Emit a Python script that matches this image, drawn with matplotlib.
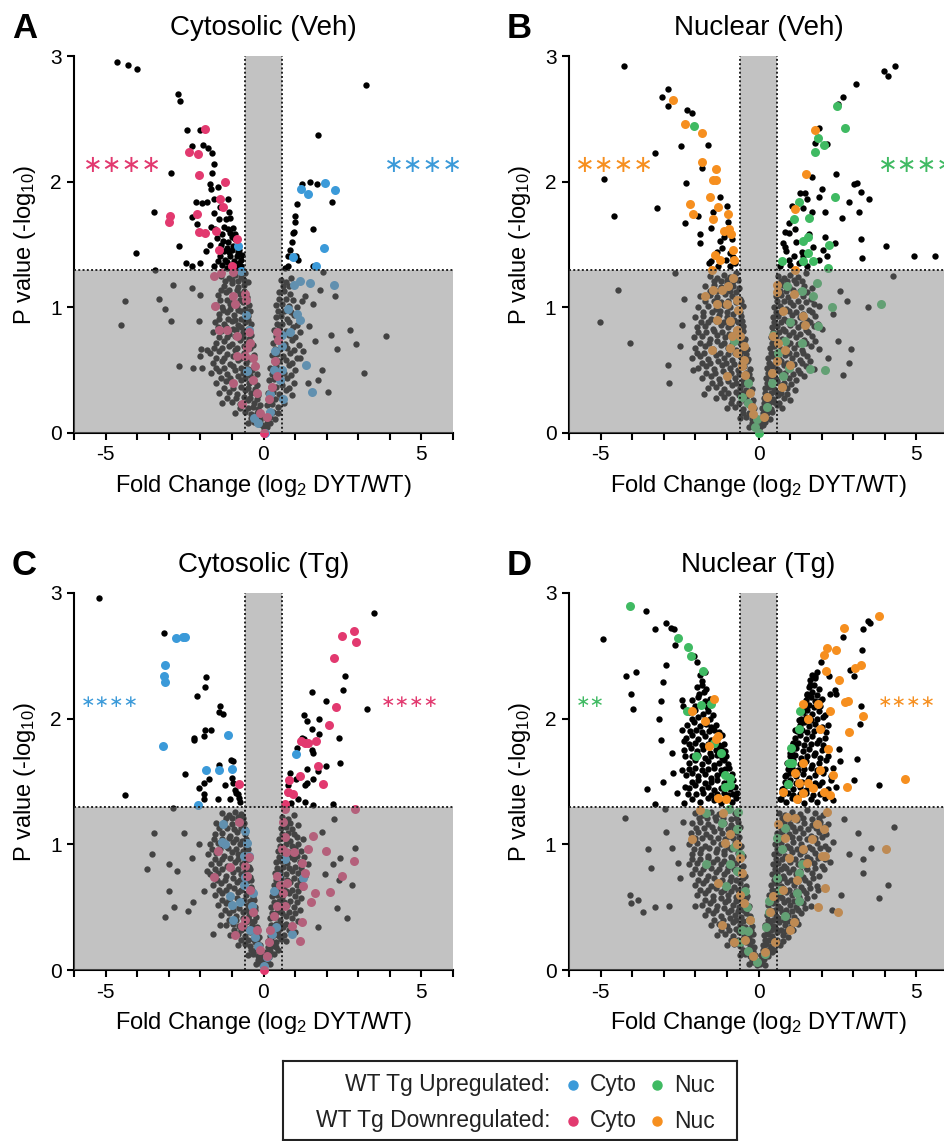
import matplotlib.pyplot as plt
from matplotlib.patches import Polygon

plt.rcParams['font.family'] = ['Liberation Sans', 'DejaVu Sans']
plt.rcParams['mathtext.fontset'] = 'custom'
plt.rcParams['mathtext.rm'] = 'Liberation Sans'
plt.rcParams['mathtext.it'] = 'Liberation Sans:italic'
plt.rcParams['axes.unicode_minus'] = False

BLUE = '#3b9ad9'
PINK = '#e2396f'
GREEN = '#3fba62'
ORANGE = '#f68f1f'

# ---------------- A: Cytosolic (Veh) ----------------
a_other = [
    (-4.63, 2.95), (-4.29, 2.93), (-4.02, 2.90), (-2.71, 2.70), (-2.63, 2.64), (-2.42, 2.41), (-2.00, 2.41),
    (-2.26, 2.28), (-1.93, 2.29), (-1.76, 2.27), (-1.62, 2.23), (-2.92, 2.07), (-1.58, 2.14), (-1.62, 2.07),
    (-1.69, 1.98), (-1.66, 1.94), (-1.43, 1.96), (-1.58, 1.86), (-3.47, 1.76), (-4.03, 1.43), (-3.45, 1.30),
    (-2.68, 1.49), (-2.44, 1.35), (-2.26, 1.33), (-2.13, 1.84), (-1.95, 1.83), (-1.79, 1.84), (-2.25, 1.72),
    (-2.10, 1.66), (-1.65, 1.64), (-1.12, 1.86), (-1.37, 1.80), (-1.58, 1.75), (-1.09, 1.76), (-1.05, 1.71),
    (-1.42, 1.70), (-1.24, 1.64), (-0.95, 1.63), (-1.05, 1.59), (-1.47, 1.55), (-1.34, 1.50), (-1.16, 1.47),
    (-0.95, 1.49), (-0.76, 1.46), (-0.84, 1.41), (-1.05, 1.41), (-1.21, 1.38), (-1.32, 1.34), (-1.00, 1.34),
    (-0.79, 1.35), (-1.82, 1.45), (-1.11, 1.52), (-0.89, 1.54), (-1.58, 1.33), (-2.00, 1.35), (-1.37, 1.41),
    (-0.90, 1.32), (-1.15, 1.31), (-0.70, 1.38), (-1.25, 1.45), (-0.85, 1.48), (-1.00, 1.56), (-1.30, 1.58),
    (-1.55, 1.62), (-1.20, 1.70), (-0.78, 1.32), (-1.45, 1.37), (-1.10, 1.44), (-0.92, 1.37), (-1.68, 1.50),
    (-0.70, 1.33), (-0.82, 1.44), (-1.00, 1.46), (-1.15, 1.36), (-0.68, 1.42), (-1.28, 1.53), (-0.90, 1.58),
    (-1.12, 1.62),
    (3.24, 2.77), (1.74, 2.37), (1.21, 1.98), (1.47, 2.00), (1.68, 1.98), (2.18, 1.84), (1.05, 1.82),
    (1.00, 1.73), (1.00, 1.68), (0.95, 1.60), (0.93, 1.59), (1.56, 1.62), (0.89, 1.52), (0.84, 1.46),
    (0.76, 1.41), (1.03, 1.41), (1.10, 1.38), (0.79, 1.33), (1.58, 1.33), (0.68, 1.31),
    (-4.38, 1.05), (-4.51, 0.86), (-3.32, 1.07), (-3.12, 0.99), (-2.92, 0.89), (-2.86, 1.18), (-2.66, 0.53),
    (-2.23, 0.52), (-1.94, 0.52), (-2.05, 0.89), (-2.26, 1.15), (-2.00, 1.10), (-1.98, 0.67), (-1.79, 0.66),
    (-2.00, 0.61), (2.26, 1.09), (2.14, 0.78), (2.74, 0.82), (2.93, 0.71), (3.87, 0.77), (2.34, 0.67),
    (3.19, 0.48), (2.05, 0.33), (1.84, 0.50), (1.74, 0.42), (1.63, 0.73), (1.26, 0.65), (1.16, 0.60),
    (1.79, 1.14), (1.87, 1.28), (1.32, 1.09), (1.58, 1.03), (1.21, 1.05), (1.45, 0.85), (1.40, 0.40),
    (-1.35, 1.25), (-1.10, 1.23), (-0.90, 1.26), (-0.70, 1.24), (-0.58, 1.27),
    (-1.25, 1.17), (-1.00, 1.19), (-0.80, 1.16), (-0.62, 1.18), (-0.50, 1.20),
    (-1.45, 1.10), (-1.20, 1.12), (-0.95, 1.09), (-0.75, 1.11), (-0.52, 1.08),
    (-1.50, 1.02), (-1.30, 1.00), (-1.05, 1.03), (-0.85, 1.01), (-0.65, 1.04), (-0.45, 1.02),
    (-1.40, 0.95), (-1.15, 0.96), (-0.92, 0.94), (-0.70, 0.97), (-0.48, 0.93),
    (-1.55, 0.88), (-1.25, 0.87), (-1.00, 0.89), (-0.80, 0.86), (-0.58, 0.88), (-0.40, 0.87),
    (-1.60, 0.80), (-1.35, 0.81), (-1.10, 0.79), (-0.88, 0.82), (-0.65, 0.80), (-0.38, 0.78),
    (-1.50, 0.72), (-1.25, 0.73), (-1.00, 0.71), (-0.75, 0.74), (-0.52, 0.72), (-0.33, 0.70),
    (-1.70, 0.64), (-1.40, 0.65), (-1.15, 0.63), (-0.90, 0.66), (-0.62, 0.64), (-0.30, 0.62),
    (-1.60, 0.56), (-1.30, 0.57), (-1.05, 0.55), (-0.80, 0.58), (-0.55, 0.56), (-0.27, 0.54),
    (-1.65, 0.48), (-1.40, 0.49), (-1.15, 0.47), (-0.90, 0.50), (-0.65, 0.48), (-0.42, 0.46), (-0.22, 0.47),
    (-1.50, 0.40), (-1.20, 0.41), (-0.95, 0.39), (-0.70, 0.42), (-0.45, 0.40), (-0.20, 0.38),
    (-1.40, 0.32), (-1.10, 0.33), (-0.85, 0.31), (-0.60, 0.34), (-0.38, 0.32), (-0.16, 0.30),
    (-1.30, 0.24), (-1.00, 0.25), (-0.75, 0.23), (-0.50, 0.26), (-0.30, 0.24), (-0.12, 0.22),
    (-0.90, 0.16), (-0.60, 0.17), (-0.40, 0.15), (-0.22, 0.16), (-0.09, 0.14),
    (-0.50, 0.08), (-0.30, 0.09), (-0.15, 0.07), (-0.05, 0.06),
    (0.55, 1.22), (0.72, 1.20), (0.88, 1.23), (0.48, 1.12), (0.65, 1.13), (0.85, 1.11),
    (0.40, 1.02), (0.60, 1.03), (0.80, 1.01), (1.05, 1.00), (0.38, 0.92), (0.55, 0.93), (0.75, 0.91), (0.98, 0.94),
    (0.33, 0.82), (0.50, 0.83), (0.70, 0.81), (0.92, 0.84), (1.15, 0.80),
    (0.30, 0.72), (0.48, 0.73), (0.68, 0.71), (0.90, 0.74), (1.12, 0.70),
    (0.26, 0.62), (0.42, 0.63), (0.62, 0.61), (0.85, 0.64), (1.05, 0.60),
    (0.22, 0.52), (0.38, 0.53), (0.58, 0.51), (0.80, 0.54), (1.00, 0.50),
    (0.18, 0.42), (0.34, 0.43), (0.55, 0.41), (0.75, 0.44), (0.98, 0.40),
    (0.15, 0.32), (0.30, 0.33), (0.50, 0.31), (0.70, 0.34), (0.90, 0.30),
    (0.12, 0.22), (0.26, 0.23), (0.45, 0.21), (0.65, 0.24), (0.08, 0.12), (0.20, 0.13), (0.35, 0.11),
    (0.03, 0.04), (0.12, 0.05),
]
a_core = [
    (-1.22, 1.21), (-1.00, 1.22), (-0.80, 1.21), (-0.63, 1.22), (-1.35, 1.14), (-1.08, 1.14), (-0.85, 1.14),
    (-0.63, 1.13), (-1.38, 1.06), (-1.15, 1.06), (-0.95, 1.05), (-0.75, 1.06), (-0.55, 1.05), (-1.28, 0.98),
    (-1.05, 0.99), (-0.82, 0.98), (-0.60, 0.99), (-0.42, 0.97), (-1.40, 0.91), (-1.12, 0.91), (-0.90, 0.90),
    (-0.70, 0.91), (-0.50, 0.90), (-1.45, 0.84), (-1.20, 0.84), (-0.95, 0.83), (-0.72, 0.84), (-0.50, 0.83),
    (-1.42, 0.76), (-1.15, 0.76), (-0.90, 0.77), (-0.66, 0.76), (-0.45, 0.75), (-1.58, 0.68), (-1.30, 0.68),
    (-1.08, 0.69), (-0.85, 0.68), (-0.62, 0.69), (-0.42, 0.68), (-1.50, 0.60), (-1.25, 0.60), (-0.98, 0.61),
    (-0.72, 0.60), (-0.45, 0.59), (-1.50, 0.52), (-1.25, 0.52), (-0.98, 0.53), (-0.72, 0.52), (-0.50, 0.51),
    (-0.35, 0.50), (-1.35, 0.44), (-1.05, 0.44), (-0.82, 0.45), (-0.58, 0.44), (-0.32, 0.43), (-1.25, 0.36),
    (-0.98, 0.36), (-0.72, 0.37), (-0.50, 0.36), (-0.28, 0.35), (-1.15, 0.28), (-0.88, 0.28), (-0.62, 0.29),
    (-0.42, 0.28), (-0.22, 0.27), (-0.75, 0.20), (-0.50, 0.20), (-0.32, 0.21), (-0.18, 0.19), (-0.40, 0.12),
    (-0.22, 0.12), (-0.10, 0.10),
    (0.62, 1.17), (0.80, 1.17), (0.50, 1.07), (0.70, 1.07), (0.92, 1.06), (0.46, 0.97), (0.65, 0.97),
    (0.86, 0.96), (0.42, 0.87), (0.60, 0.87), (0.82, 0.88), (1.05, 0.86), (0.40, 0.77), (0.58, 0.77),
    (0.80, 0.78), (1.00, 0.76), (0.36, 0.67), (0.52, 0.67), (0.75, 0.68), (0.95, 0.66), (0.32, 0.57),
    (0.50, 0.57), (0.70, 0.58), (0.90, 0.56), (0.28, 0.47), (0.45, 0.47), (0.65, 0.48), (0.86, 0.46),
    (0.24, 0.37), (0.40, 0.37), (0.60, 0.38), (0.80, 0.36), (0.20, 0.27), (0.36, 0.27), (0.55, 0.28),
    (0.16, 0.17), (0.30, 0.17), (0.45, 0.16), (0.10, 0.08), (0.22, 0.08),
]
a_up = [
    (-0.81, 1.49), (1.19, 1.94), (1.42, 1.90), (1.95, 1.99), (2.26, 1.93), (0.93, 1.40), (1.93, 1.47), (1.66, 1.33),
    (-0.71, 1.29), (0.95, 1.18), (1.14, 1.21), (1.47, 1.19), (2.23, 1.18), (0.76, 0.99), (1.05, 0.95), (1.16, 0.90),
    (0.58, 0.78), (0.84, 0.80), (0.37, 0.65), (0.58, 0.69), (1.34, 0.54), (0.32, 0.50), (0.58, 0.50), (0.53, 0.42),
    (0.63, 0.27), (0.19, 0.31), (0.21, 0.17), (0.05, 0.00), (-0.29, 0.12), (-0.16, 0.08), (-0.47, 0.82),
    (-0.51, 0.49), (-0.56, 0.94), (1.53, 0.33),
]
a_down = [
    (-1.84, 2.42), (-2.35, 2.24), (-2.08, 2.22), (-2.03, 2.05), (-1.23, 2.00), (-1.39, 1.86), (-1.29, 1.80),
    (-2.95, 1.73), (-2.99, 1.68), (-2.10, 1.74), (-2.03, 1.60), (-1.86, 1.59), (-1.49, 1.61), (-0.84, 1.54),
    (-1.42, 1.46), (-1.00, 1.33),
    (-1.58, 1.25), (-1.35, 1.27), (-0.95, 1.28), (-1.55, 1.01), (-0.95, 1.09), (-0.58, 1.11), (-0.55, 1.06),
    (-0.89, 1.03), (-1.42, 0.82), (-1.16, 0.82), (-0.84, 0.77), (-0.47, 0.80), (-0.44, 0.72), (-0.53, 0.68),
    (-0.84, 0.61), (-0.58, 0.61), (-0.32, 0.60), (-0.95, 0.40), (-0.68, 0.23), (-0.26, 0.53), (-0.32, 0.42),
    (-0.21, 0.32), (-0.11, 0.16), (0.00, 0.00), (0.42, 0.80), (0.47, 0.74), (0.37, 0.57), (0.42, 0.45),
    (0.26, 0.37), (0.16, 0.27), (0.11, 0.13),
]

# ---------------- B: Nuclear (Veh) ----------------
b_other = [
    (-4.27, 2.92), (-2.87, 2.74), (-3.06, 2.67), (-2.87, 2.60), (-2.27, 2.57), (-2.11, 2.55), (-1.60, 2.29),
    (-2.46, 2.28), (-3.27, 2.23), (-1.79, 2.15), (-1.78, 2.11), (-4.88, 2.02), (-2.30, 1.99), (-3.20, 1.79),
    (-4.56, 1.73), (-2.34, 1.67), (-1.90, 1.73), (-1.45, 1.76), (-1.23, 1.88), (-1.00, 1.81), (-0.95, 1.68),
    (-1.50, 1.63), (-1.85, 1.58), (-1.85, 1.51), (-1.23, 1.53), (-1.00, 1.59), (-0.84, 1.54), (-1.16, 1.47),
    (-0.90, 1.43), (-1.51, 1.37), (-1.27, 1.33), (-0.90, 1.33), (-0.74, 1.35), (-1.02, 1.38), (-1.58, 1.35),
    (-1.10, 1.56), (-0.80, 1.40), (-1.30, 1.44),
    (4.32, 2.92), (3.98, 2.88), (4.10, 2.84), (3.09, 2.78), (2.69, 2.67), (2.51, 2.62), (1.90, 2.43),
    (2.16, 2.30), (1.79, 2.31), (2.46, 2.06), (1.69, 2.04), (3.01, 1.98), (3.13, 1.99), (3.24, 1.92),
    (3.51, 1.86), (2.88, 1.84), (2.00, 1.94), (1.90, 1.88), (1.32, 1.91), (1.48, 1.91), (1.53, 1.86),
    (1.05, 1.81), (1.42, 1.79), (1.69, 1.76), (2.11, 1.76), (3.19, 1.76), (2.64, 1.71), (0.95, 1.67),
    (1.16, 1.62), (0.84, 1.60), (0.95, 1.59), (2.09, 1.56), (3.25, 1.54), (2.43, 1.51), (0.79, 1.51),
    (0.84, 1.48), (2.05, 1.46), (1.72, 1.48), (1.37, 1.44), (1.11, 1.41), (2.16, 1.41), (3.27, 1.39),
    (4.03, 1.49), (4.91, 1.41), (5.59, 1.41), (0.74, 1.36), (0.95, 1.38), (1.27, 1.35), (1.53, 1.33),
    (0.69, 1.33), (1.90, 1.38), (1.00, 1.34), (1.42, 1.41), (0.88, 1.45), (1.20, 1.52), (1.60, 1.58),
    (-4.45, 1.14), (-5.01, 0.88), (-4.08, 0.72), (-2.64, 1.27), (-2.37, 1.07), (-2.43, 0.86), (-2.48, 0.69),
    (-2.87, 0.54), (-2.82, 0.40), (-1.74, 0.31), (-2.06, 0.50), (4.25, 1.25), (3.48, 1.00), (2.93, 0.67),
    (2.87, 0.56), (2.67, 0.46), (2.58, 1.13), (2.80, 1.05), (2.37, 0.95), (2.53, 0.73), (2.20, 0.60),
    (-1.55, 1.25), (-1.30, 1.23), (-1.10, 1.26), (-0.90, 1.24), (-0.70, 1.27),
    (-1.70, 1.17), (-1.40, 1.18), (-1.20, 1.16), (-1.00, 1.19), (-0.80, 1.17), (-0.62, 1.15),
    (-1.85, 1.09), (-1.55, 1.10), (-1.30, 1.08), (-1.05, 1.11), (-0.85, 1.09), (-0.60, 1.07),
    (-1.90, 1.00), (-1.60, 1.01), (-1.35, 0.99), (-1.10, 1.02), (-0.90, 1.00), (-0.68, 0.98), (-0.50, 1.01),
    (-2.00, 0.92), (-1.75, 0.93), (-1.50, 0.91), (-1.25, 0.94), (-1.00, 0.92), (-0.78, 0.90), (-0.55, 0.93),
    (-1.95, 0.84), (-1.70, 0.85), (-1.45, 0.83), (-1.20, 0.86), (-0.95, 0.84), (-0.72, 0.82), (-0.48, 0.85),
    (-2.05, 0.76), (-1.80, 0.77), (-1.55, 0.75), (-1.30, 0.78), (-1.05, 0.76), (-0.80, 0.74), (-0.60, 0.77), (-0.42, 0.75),
    (-2.00, 0.68), (-1.70, 0.69), (-1.45, 0.67), (-1.20, 0.70), (-0.95, 0.68), (-0.70, 0.66), (-0.50, 0.69), (-0.36, 0.67),
    (-2.10, 0.60), (-1.85, 0.61), (-1.60, 0.59), (-1.35, 0.62), (-1.10, 0.60), (-0.85, 0.58), (-0.60, 0.61), (-0.33, 0.59),
    (-1.90, 0.52), (-1.65, 0.53), (-1.40, 0.51), (-1.15, 0.54), (-0.90, 0.52), (-0.65, 0.50), (-0.45, 0.53), (-0.28, 0.51),
    (-1.80, 0.44), (-1.50, 0.45), (-1.25, 0.43), (-1.00, 0.46), (-0.75, 0.44), (-0.50, 0.42), (-0.25, 0.43),
    (-1.60, 0.36), (-1.35, 0.37), (-1.10, 0.35), (-0.85, 0.38), (-0.60, 0.36), (-0.40, 0.34), (-0.22, 0.35),
    (-1.35, 0.28), (-1.10, 0.29), (-0.85, 0.27), (-0.62, 0.30), (-0.40, 0.28), (-0.18, 0.26),
    (-1.00, 0.20), (-0.75, 0.21), (-0.50, 0.19), (-0.30, 0.22), (-0.14, 0.20),
    (-0.60, 0.12), (-0.40, 0.13), (-0.22, 0.11), (-0.10, 0.12), (-0.30, 0.05), (-0.15, 0.06), (-0.05, 0.04),
    (0.62, 1.25), (0.80, 1.23), (1.00, 1.26), (1.25, 1.24), (1.50, 1.27),
    (0.60, 1.17), (0.78, 1.18), (0.98, 1.16), (1.20, 1.19), (1.45, 1.17), (1.70, 1.15),
    (0.55, 1.09), (0.72, 1.10), (0.92, 1.08), (1.15, 1.11), (1.40, 1.09), (1.65, 1.07),
    (0.50, 1.00), (0.68, 1.01), (0.88, 0.99), (1.10, 1.02), (1.35, 1.00), (1.60, 0.98), (1.90, 1.01),
    (0.46, 0.92), (0.62, 0.93), (0.82, 0.91), (1.05, 0.94), (1.30, 0.92), (1.55, 0.90), (1.80, 0.93),
    (0.42, 0.84), (0.58, 0.85), (0.78, 0.83), (1.00, 0.86), (1.25, 0.84), (1.50, 0.82), (1.75, 0.85), (2.00, 0.83),
    (0.38, 0.76), (0.55, 0.77), (0.75, 0.75), (0.95, 0.78), (1.20, 0.76), (1.45, 0.74), (1.70, 0.77),
    (0.35, 0.68), (0.50, 0.69), (0.70, 0.67), (0.90, 0.70), (1.12, 0.68), (1.38, 0.66), (1.65, 0.69), (1.90, 0.67),
    (0.30, 0.60), (0.46, 0.61), (0.65, 0.59), (0.85, 0.62), (1.05, 0.60), (1.30, 0.58), (1.55, 0.61),
    (0.27, 0.52), (0.42, 0.53), (0.60, 0.51), (0.80, 0.54), (1.00, 0.52), (1.25, 0.50), (1.50, 0.53), (1.75, 0.51),
    (0.23, 0.44), (0.38, 0.45), (0.55, 0.43), (0.75, 0.46), (0.95, 0.44), (1.20, 0.42), (1.45, 0.45),
    (0.20, 0.36), (0.34, 0.37), (0.50, 0.35), (0.70, 0.38), (0.90, 0.36), (1.15, 0.34),
    (0.16, 0.28), (0.30, 0.29), (0.45, 0.27), (0.62, 0.30), (0.80, 0.28), (1.00, 0.26),
    (0.12, 0.20), (0.25, 0.21), (0.40, 0.19), (0.58, 0.22), (0.75, 0.20),
    (0.08, 0.12), (0.20, 0.13), (0.35, 0.11), (0.04, 0.05), (0.14, 0.06),
]
b_core = [
    (-1.42, 1.21), (-1.20, 1.21), (-1.00, 1.22), (-0.80, 1.21), (-0.64, 1.22), (-1.55, 1.13), (-1.30, 1.13),
    (-1.10, 1.14), (-0.90, 1.13), (-0.70, 1.12), (-1.70, 1.05), (-1.42, 1.05), (-1.18, 1.04), (-0.95, 1.05),
    (-0.72, 1.04), (-0.55, 1.05), (-1.75, 0.96), (-1.48, 0.96), (-1.22, 0.97), (-1.00, 0.96), (-0.80, 0.95),
    (-0.60, 0.96), (-1.82, 0.88), (-1.60, 0.88), (-1.35, 0.89), (-1.10, 0.88), (-0.88, 0.87), (-0.65, 0.88),
    (-0.52, 0.89), (-1.90, 0.80), (-1.65, 0.80), (-1.40, 0.81), (-1.15, 0.80), (-0.92, 0.79), (-0.70, 0.80),
    (-0.50, 0.81), (-1.85, 0.72), (-1.58, 0.72), (-1.32, 0.73), (-1.08, 0.72), (-0.85, 0.71), (-0.60, 0.72),
    (-0.45, 0.73), (-1.95, 0.64), (-1.72, 0.64), (-1.48, 0.65), (-1.22, 0.64), (-0.98, 0.63), (-0.75, 0.64),
    (-0.52, 0.65), (-0.38, 0.63), (-1.78, 0.56), (-1.52, 0.56), (-1.28, 0.57), (-1.02, 0.56), (-0.78, 0.55),
    (-0.55, 0.56), (-0.36, 0.57), (-1.65, 0.48), (-1.38, 0.48), (-1.12, 0.49), (-0.88, 0.48), (-0.62, 0.47),
    (-0.40, 0.48), (-0.30, 0.47), (-1.48, 0.40), (-1.22, 0.40), (-0.98, 0.41), (-0.72, 0.40), (-0.50, 0.39),
    (-0.30, 0.40), (-1.20, 0.32), (-0.98, 0.32), (-0.72, 0.33), (-0.50, 0.32), (-0.30, 0.31), (-0.88, 0.24),
    (-0.62, 0.24), (-0.40, 0.25), (-0.22, 0.23), (-0.50, 0.16), (-0.30, 0.16), (-0.16, 0.15), (-0.20, 0.08),
    (-0.08, 0.08),
    (0.70, 1.21), (0.90, 1.21), (1.12, 1.22), (1.38, 1.21), (0.68, 1.13), (0.88, 1.13), (1.08, 1.14),
    (1.32, 1.13), (1.55, 1.12), (0.60, 1.05), (0.80, 1.05), (1.00, 1.04), (1.25, 1.05), (1.50, 1.04),
    (1.75, 1.03), (0.55, 0.96), (0.72, 0.96), (0.95, 0.97), (1.18, 0.96), (1.42, 0.95), (1.68, 0.96),
    (0.50, 0.88), (0.70, 0.88), (0.90, 0.89), (1.12, 0.88), (1.38, 0.87), (1.62, 0.88), (1.88, 0.87),
    (0.46, 0.80), (0.65, 0.80), (0.85, 0.81), (1.08, 0.80), (1.32, 0.79), (1.58, 0.80), (0.42, 0.72),
    (0.60, 0.72), (0.80, 0.73), (1.00, 0.72), (1.25, 0.71), (1.50, 0.72), (1.78, 0.73), (0.38, 0.64),
    (0.56, 0.64), (0.75, 0.65), (0.95, 0.64), (1.18, 0.63), (1.42, 0.64), (0.34, 0.56), (0.52, 0.56),
    (0.70, 0.57), (0.90, 0.56), (1.12, 0.55), (1.38, 0.56), (1.62, 0.57), (0.30, 0.48), (0.46, 0.48),
    (0.65, 0.49), (0.85, 0.48), (1.08, 0.47), (1.32, 0.48), (0.26, 0.40), (0.42, 0.40), (0.60, 0.41),
    (0.80, 0.40), (1.02, 0.39), (0.22, 0.32), (0.38, 0.32), (0.55, 0.33), (0.72, 0.32), (0.90, 0.31),
    (0.18, 0.24), (0.32, 0.24), (0.50, 0.25), (0.66, 0.24), (0.14, 0.16), (0.28, 0.16), (0.42, 0.17),
    (0.10, 0.08), (0.22, 0.09),
]
b_up = [
    (-2.04, 2.44),
    (2.48, 2.60), (2.74, 2.43), (1.87, 2.35), (2.06, 2.29), (1.79, 2.24), (2.41, 1.88), (1.29, 1.84),
    (1.13, 1.70), (1.61, 1.71), (1.42, 1.53), (1.58, 1.56), (2.24, 1.50), (1.56, 1.43), (0.74, 1.37),
    (1.42, 1.37), (1.72, 1.37), (2.19, 1.31),
    (3.87, 1.03), (2.32, 1.00), (1.85, 1.19), (1.88, 0.85), (1.64, 0.51), (2.09, 0.50), (1.37, 0.72),
    (0.90, 1.17), (1.37, 1.13), (1.74, 1.09), (0.47, 0.78), (0.84, 0.73), (0.63, 0.64), (0.95, 0.52),
    (1.00, 0.88), (0.79, 0.45), (0.42, 0.40), (0.26, 0.21), (-0.05, 0.11), (-0.11, 0.05), (0.00, 0.00),
    (-0.79, 0.73), (-0.32, 0.40), (-0.53, 0.29), (-0.32, 0.24),
]
b_down = [
    (-2.72, 2.65), (-2.34, 2.46), (-1.79, 2.39), (-1.79, 2.16), (-1.35, 2.10), (-1.45, 2.01), (-1.35, 2.01),
    (-1.53, 1.88), (-2.18, 1.82), (-2.08, 1.74), (-1.27, 1.80), (-1.45, 1.70), (-0.98, 1.74), (-1.08, 1.61),
    (-0.92, 1.62), (-0.87, 1.58), (-0.81, 1.46), (-1.37, 1.42), (-1.21, 1.38), (-0.76, 1.38), (-1.46, 1.30),
    (1.79, 2.41), (1.51, 2.06), (1.16, 1.78), (1.16, 1.30),
    (-0.81, 1.23), (-0.98, 1.17), (-1.16, 1.14), (-1.45, 1.14), (-1.69, 1.09), (-1.32, 1.03), (-1.00, 1.03),
    (-0.69, 1.06), (-0.66, 0.98), (-0.90, 0.89), (-1.32, 0.90), (-0.69, 0.82), (-0.58, 0.77), (-0.84, 0.77),
    (-0.47, 0.69), (-0.69, 0.64), (-0.90, 0.68), (-1.48, 0.66), (-0.47, 0.58), (-0.53, 0.53), (-0.42, 0.46),
    (-1.00, 0.45), (-0.26, 0.32), (-0.21, 0.21), (-0.16, 0.15),
    (0.60, 1.18), (0.58, 1.12), (1.13, 1.11), (0.79, 0.97), (1.42, 0.93), (1.48, 0.86), (0.47, 0.77),
    (0.63, 0.72), (0.84, 0.66), (0.58, 0.57), (0.42, 0.48), (1.00, 0.54), (0.74, 0.37), (0.26, 0.29), (0.16, 0.13),
]

# ---------------- C: Cytosolic (Tg) ----------------
c_other = [
    (-5.21, 2.96), (-3.14, 2.68), (-1.82, 2.33), (-1.86, 2.25), (-2.11, 2.18), (-1.37, 2.10), (-1.42, 2.05),
    (-1.28, 2.04), (-2.21, 1.85), (-2.19, 1.83), (-1.86, 1.91), (-1.66, 1.91), (-1.89, 1.86), (-2.47, 1.56),
    (-2.03, 1.45), (-1.87, 1.49), (-1.71, 1.52), (-1.87, 1.40), (-1.87, 1.36), (-1.45, 1.36), (-1.41, 1.63),
    (-1.03, 1.67), (-0.95, 1.66), (-1.23, 1.47), (-1.00, 1.53), (-0.95, 1.49), (-0.89, 1.43), (-1.05, 1.36),
    (-0.82, 1.40), (-0.74, 1.34), (-4.37, 1.39), (-2.86, 1.29), (-0.86, 1.41), (-0.76, 1.37),
    (3.51, 2.84), (2.58, 2.34), (2.53, 2.23), (3.28, 2.08), (1.54, 2.21), (1.98, 2.14), (1.28, 2.03),
    (1.37, 1.98), (1.77, 2.00), (1.54, 1.92), (1.05, 1.77), (1.21, 1.85), (1.29, 1.84), (1.52, 1.75),
    (1.58, 1.73), (1.77, 1.88), (2.40, 1.85), (2.42, 1.65), (1.97, 1.62), (1.74, 1.58), (1.37, 1.60),
    (0.84, 1.57), (1.03, 1.52), (1.58, 1.52), (1.32, 1.47), (1.37, 1.49), (0.77, 1.47), (0.79, 1.41),
    (1.08, 1.36), (1.32, 1.34), (1.58, 1.31), (2.21, 1.32), (0.87, 1.33),
    (-3.47, 1.09), (-3.53, 0.92), (-3.68, 0.80), (-3.00, 0.84), (-2.74, 0.79), (-2.53, 1.09), (-2.26, 0.89),
    (-2.05, 1.00), (-3.00, 0.63), (-2.84, 0.50), (-3.11, 0.42), (-2.23, 0.54), (-2.39, 0.47), (-1.89, 0.63),
    (-1.79, 0.79), (-1.60, 0.29), (-1.39, 0.36), (2.89, 0.97), (2.79, 0.68), (2.63, 0.41), (2.34, 0.49),
    (2.21, 0.84), (2.24, 1.20), (2.42, 0.89), (2.40, 0.72), (1.74, 0.34), (1.95, 0.76), (1.85, 1.10),
    (-1.30, 1.25), (-1.10, 1.23), (-0.90, 1.26), (-0.70, 1.24),
    (-1.50, 1.17), (-1.25, 1.18), (-1.00, 1.16), (-0.80, 1.19), (-0.62, 1.17),
    (-1.55, 1.08), (-1.30, 1.09), (-1.05, 1.07), (-0.85, 1.10), (-0.60, 1.08),
    (-1.70, 1.00), (-1.45, 1.01), (-1.20, 0.99), (-0.95, 1.02), (-0.75, 1.00), (-0.55, 0.98),
    (-1.75, 0.92), (-1.50, 0.93), (-1.25, 0.91), (-1.00, 0.94), (-0.80, 0.92), (-0.52, 0.90),
    (-1.65, 0.84), (-1.40, 0.85), (-1.15, 0.83), (-0.90, 0.86), (-0.68, 0.84), (-0.45, 0.82),
    (-1.70, 0.76), (-1.45, 0.77), (-1.20, 0.75), (-0.95, 0.78), (-0.72, 0.76), (-0.42, 0.74),
    (-1.60, 0.68), (-1.35, 0.69), (-1.10, 0.67), (-0.85, 0.70), (-0.62, 0.68), (-0.38, 0.66),
    (-1.55, 0.60), (-1.30, 0.61), (-1.05, 0.59), (-0.80, 0.62), (-0.55, 0.60), (-0.33, 0.58),
    (-1.45, 0.52), (-1.20, 0.53), (-0.95, 0.51), (-0.72, 0.54), (-0.50, 0.52), (-0.28, 0.50),
    (-1.35, 0.44), (-1.10, 0.45), (-0.88, 0.43), (-0.65, 0.46), (-0.45, 0.44), (-0.24, 0.42),
    (-1.20, 0.36), (-0.98, 0.37), (-0.76, 0.35), (-0.55, 0.38), (-0.36, 0.36), (-0.20, 0.34),
    (-1.05, 0.28), (-0.80, 0.29), (-0.60, 0.27), (-0.42, 0.30), (-0.25, 0.28), (-0.15, 0.26),
    (-0.80, 0.20), (-0.60, 0.21), (-0.42, 0.19), (-0.26, 0.22), (-0.12, 0.20),
    (-0.50, 0.12), (-0.32, 0.13), (-0.18, 0.11), (-0.08, 0.12), (-0.25, 0.05), (-0.12, 0.06), (-0.04, 0.04),
    (0.60, 1.22), (0.78, 1.20), (0.95, 1.23), (0.55, 1.13), (0.72, 1.14), (0.90, 1.12), (1.10, 1.15),
    (0.50, 1.04), (0.66, 1.05), (0.85, 1.03), (1.05, 1.06), (1.25, 1.04),
    (0.45, 0.95), (0.60, 0.96), (0.80, 0.94), (1.00, 0.97), (1.20, 0.95),
    (0.40, 0.86), (0.56, 0.87), (0.75, 0.85), (0.95, 0.88), (1.15, 0.86), (1.40, 0.84),
    (0.36, 0.77), (0.52, 0.78), (0.70, 0.76), (0.90, 0.79), (1.10, 0.77), (1.30, 0.75),
    (0.32, 0.68), (0.48, 0.69), (0.65, 0.67), (0.85, 0.70), (1.05, 0.68), (1.25, 0.66),
    (0.28, 0.59), (0.44, 0.60), (0.60, 0.58), (0.80, 0.61), (1.00, 0.59), (1.20, 0.57),
    (0.25, 0.50), (0.40, 0.51), (0.56, 0.49), (0.75, 0.52), (0.95, 0.50), (1.15, 0.48),
    (0.21, 0.41), (0.36, 0.42), (0.52, 0.40), (0.70, 0.43), (0.90, 0.41), (1.10, 0.39),
    (0.17, 0.32), (0.30, 0.33), (0.46, 0.31), (0.62, 0.34), (0.80, 0.32), (1.00, 0.30),
    (0.13, 0.23), (0.25, 0.24), (0.40, 0.22), (0.56, 0.25), (0.72, 0.23),
    (0.09, 0.14), (0.20, 0.15), (0.32, 0.13), (0.45, 0.16), (0.04, 0.06), (0.12, 0.07), (0.22, 0.05),
]
c_core = [
    (-1.20, 1.21), (-1.00, 1.21), (-0.80, 1.22), (-0.65, 1.21), (-1.40, 1.13), (-1.15, 1.13), (-0.92, 1.12),
    (-0.72, 1.13), (-0.58, 1.12), (-1.58, 1.04), (-1.32, 1.04), (-1.10, 1.05), (-0.88, 1.04), (-0.68, 1.03),
    (-0.55, 1.04), (-1.62, 0.96), (-1.38, 0.96), (-1.12, 0.97), (-0.88, 0.96), (-0.65, 0.95), (-0.50, 0.96),
    (-1.55, 0.88), (-1.30, 0.88), (-1.05, 0.89), (-0.82, 0.88), (-0.60, 0.87), (-0.46, 0.88), (-1.55, 0.80),
    (-1.30, 0.80), (-1.05, 0.81), (-0.82, 0.80), (-0.58, 0.79), (-0.44, 0.80), (-1.48, 0.72), (-1.22, 0.72),
    (-0.98, 0.73), (-0.75, 0.72), (-0.52, 0.71), (-0.40, 0.72), (-1.42, 0.64), (-1.18, 0.64), (-0.92, 0.65),
    (-0.70, 0.64), (-0.46, 0.63), (-0.35, 0.64), (-1.32, 0.56), (-1.08, 0.56), (-0.85, 0.57), (-0.62, 0.56),
    (-0.42, 0.55), (-0.30, 0.56), (-1.22, 0.48), (-0.98, 0.48), (-0.78, 0.49), (-0.56, 0.48), (-0.36, 0.47),
    (-0.26, 0.48), (-1.08, 0.40), (-0.88, 0.40), (-0.66, 0.41), (-0.46, 0.40), (-0.30, 0.39), (-0.92, 0.32),
    (-0.70, 0.32), (-0.50, 0.33), (-0.34, 0.32), (-0.20, 0.31), (-0.70, 0.24), (-0.50, 0.24), (-0.34, 0.25),
    (-0.20, 0.24), (-0.40, 0.16), (-0.25, 0.16), (-0.13, 0.15), (-0.18, 0.08), (-0.08, 0.08),
    (0.68, 1.17), (0.85, 1.17), (0.60, 1.08), (0.78, 1.09), (0.96, 1.08), (0.52, 0.99), (0.70, 1.00),
    (0.90, 0.99), (1.10, 1.00), (0.48, 0.90), (0.66, 0.91), (0.86, 0.90), (1.05, 0.91), (1.28, 0.90),
    (0.44, 0.81), (0.62, 0.82), (0.80, 0.81), (1.00, 0.82), (1.20, 0.81), (0.40, 0.72), (0.56, 0.73),
    (0.75, 0.72), (0.95, 0.73), (1.15, 0.72), (0.36, 0.63), (0.52, 0.64), (0.70, 0.63), (0.90, 0.64),
    (1.10, 0.63), (0.32, 0.54), (0.48, 0.55), (0.66, 0.54), (0.85, 0.55), (1.05, 0.54), (0.28, 0.45),
    (0.44, 0.46), (0.60, 0.45), (0.80, 0.46), (1.00, 0.45), (0.24, 0.36), (0.38, 0.37), (0.54, 0.36),
    (0.72, 0.37), (0.90, 0.36), (0.20, 0.27), (0.32, 0.28), (0.48, 0.27), (0.64, 0.28), (0.15, 0.18),
    (0.26, 0.19), (0.38, 0.18), (0.08, 0.10), (0.18, 0.10),
]
c_up = [
    (-2.77, 2.64), (-2.55, 2.65), (-2.49, 2.65), (-3.13, 2.43), (-3.14, 2.34), (-3.13, 2.29), (-3.18, 1.78),
    (-1.11, 1.87), (-1.81, 1.59), (-1.42, 1.59), (-1.00, 1.60), (-2.06, 1.31), (1.03, 1.72),
    (-1.28, 1.16), (-0.58, 1.11), (-1.32, 1.02), (-1.21, 1.00), (-0.53, 1.01), (-0.63, 0.91), (-0.47, 0.91),
    (-0.58, 0.74), (-0.61, 0.68), (-0.32, 0.61), (-1.07, 0.59), (-1.00, 0.52), (-0.74, 0.54), (-0.37, 0.51),
    (-0.95, 0.40), (-0.42, 0.32), (-0.26, 0.26), (-0.16, 0.19), (0.03, 0.03),
    (0.68, 0.88), (0.47, 0.75), (0.34, 0.63), (1.24, 0.73), (0.39, 0.34), (0.26, 0.29), (0.89, 0.29), (0.11, 0.10),
]
c_down = [
    (-0.79, 1.48),
    (2.87, 2.70), (2.47, 2.66), (2.93, 2.61), (2.24, 2.48), (2.28, 2.09), (2.07, 1.95), (1.19, 1.82),
    (1.32, 1.81), (1.42, 1.81), (1.66, 1.82), (1.72, 1.62), (1.16, 1.54), (0.81, 1.51), (1.87, 1.48),
    (0.79, 1.42), (0.93, 1.40), (0.68, 1.32),
    (2.89, 1.28), (2.87, 0.87), (2.47, 0.75), (2.11, 0.62), (1.98, 0.95), (1.58, 1.07), (1.42, 0.96),
    (1.21, 0.85), (1.32, 0.77), (1.26, 0.67), (1.63, 0.61), (1.51, 0.54), (1.21, 0.38), (1.16, 0.23),
    (0.89, 0.35), (0.74, 0.69), (0.58, 0.96), (0.72, 0.94), (0.95, 0.94), (0.68, 1.06), (0.63, 1.18),
    (0.68, 1.28), (0.42, 0.75), (0.53, 0.68), (0.63, 0.61), (0.68, 0.51), (0.42, 0.51), (0.32, 0.43),
    (0.21, 0.32), (0.16, 0.22), (0.11, 0.11), (0.00, 0.00),
    (-0.79, 1.18), (-1.44, 0.95), (-1.05, 0.82), (-1.58, 0.74), (-0.58, 0.83), (-0.53, 0.75), (-0.42, 0.64),
    (-0.58, 0.40), (-0.89, 0.28), (-0.68, 0.35), (-0.32, 0.46), (-0.21, 0.32), (-0.11, 0.16), (-0.47, 0.90),
]

# ---------------- D: Nuclear (Tg) ----------------
d_other = [
    (-3.57, 2.86), (-4.91, 2.63), (-3.27, 2.71), (-2.92, 2.76), (-2.77, 2.72), (-2.69, 2.71), (-2.64, 2.59),
    (-4.19, 2.34), (-3.88, 2.37), (-4.04, 2.20), (-3.98, 2.08), (-2.92, 2.43), (-3.01, 2.29), (-3.09, 2.14),
    (-3.14, 2.00), (-3.09, 1.83), (-3.53, 1.44), (-3.01, 1.50), (-2.74, 1.73), (-2.72, 1.57), (-2.58, 1.41),
    (-3.27, 1.32), (-2.37, 1.33), (-2.43, 2.15), (-2.40, 2.10), (-2.43, 1.91), (-2.37, 1.82), (-2.32, 1.70),
    (-2.43, 1.59), (-2.32, 1.46), (-2.22, 1.40), (-2.05, 2.50), (-1.95, 2.45),
    (-1.85, 2.35), (-1.70, 2.37), (-1.95, 2.25), (-1.80, 2.27), (-1.65, 2.24),
    (-2.10, 2.15), (-1.90, 2.17), (-1.70, 2.14), (-1.55, 2.16),
    (-2.20, 2.05), (-2.00, 2.07), (-1.75, 2.04), (-1.60, 2.06), (-1.45, 2.03),
    (-2.25, 1.95), (-2.05, 1.97), (-1.85, 1.94), (-1.65, 1.96), (-1.50, 1.93), (-1.35, 1.95),
    (-2.30, 1.85), (-2.10, 1.87), (-1.90, 1.84), (-1.70, 1.86), (-1.50, 1.83), (-1.30, 1.85), (-1.15, 1.87),
    (-2.35, 1.75), (-2.15, 1.77), (-1.95, 1.74), (-1.75, 1.76), (-1.55, 1.73), (-1.35, 1.75), (-1.20, 1.77), (-1.05, 1.74),
    (-2.20, 1.65), (-2.00, 1.67), (-1.80, 1.64), (-1.60, 1.66), (-1.40, 1.63), (-1.25, 1.65), (-1.10, 1.67), (-0.95, 1.64),
    (-2.30, 1.55), (-2.10, 1.57), (-1.90, 1.54), (-1.70, 1.56), (-1.50, 1.53), (-1.30, 1.55), (-1.15, 1.57),
    (-1.00, 1.54), (-0.85, 1.56),
    (-2.20, 1.45), (-2.00, 1.47), (-1.80, 1.44), (-1.60, 1.46), (-1.40, 1.43), (-1.20, 1.45), (-1.05, 1.47),
    (-0.90, 1.44), (-0.75, 1.46),
    (-2.10, 1.36), (-1.85, 1.34), (-1.60, 1.37), (-1.40, 1.35), (-1.20, 1.33), (-1.00, 1.36), (-0.85, 1.34), (-0.70, 1.37),
    (-1.78, 2.30), (-1.88, 2.20), (-1.72, 2.21), (-2.00, 2.10), (-1.80, 2.11), (-1.62, 2.09), (-2.10, 2.00),
    (-1.90, 2.01), (-1.70, 1.99), (-1.52, 2.00), (-2.18, 1.90), (-1.98, 1.91), (-1.78, 1.89), (-1.58, 1.90),
    (-1.42, 1.91), (-1.25, 1.89), (-2.20, 1.80), (-2.00, 1.81), (-1.80, 1.79), (-1.60, 1.80), (-1.42, 1.81),
    (-1.25, 1.79), (-1.10, 1.80), (-2.10, 1.70), (-1.90, 1.71), (-1.70, 1.69), (-1.50, 1.70), (-1.32, 1.71),
    (-1.17, 1.69), (-1.02, 1.70), (-2.20, 1.60), (-2.00, 1.61), (-1.80, 1.59), (-1.60, 1.60), (-1.40, 1.61),
    (-1.20, 1.59), (-1.05, 1.60), (-0.92, 1.61), (-2.10, 1.50), (-1.90, 1.51), (-1.70, 1.49), (-1.50, 1.50),
    (-1.30, 1.51), (-1.10, 1.49), (-0.95, 1.50), (-0.82, 1.51), (-1.98, 1.40), (-1.75, 1.41), (-1.50, 1.39),
    (-1.30, 1.40), (-1.10, 1.41), (-0.95, 1.39), (-0.80, 1.40), (-0.68, 1.41),
    (3.48, 2.78), (3.53, 2.76), (3.30, 2.71), (3.27, 2.55), (2.67, 2.65), (2.90, 2.39), (3.01, 2.34),
    (3.25, 2.10), (3.22, 1.96), (3.11, 1.68), (3.01, 1.51), (3.80, 1.47), (2.56, 1.76), (2.58, 1.66),
    (2.43, 2.23), (2.46, 2.20), (2.22, 2.34), (2.27, 2.20), (1.95, 2.14), (1.97, 2.45), (1.79, 2.34),
    (1.64, 2.27), (1.53, 2.19), (1.42, 2.07), (1.27, 1.99), (1.16, 1.91), (1.09, 1.81), (1.00, 1.73),
    (0.90, 1.65), (0.84, 1.54), (0.74, 1.44), (0.69, 1.36),
    (1.70, 2.35), (1.85, 2.37), (1.60, 2.25), (1.75, 2.27), (1.90, 2.24),
    (1.50, 2.15), (1.65, 2.17), (1.80, 2.14), (2.00, 2.16),
    (1.40, 2.05), (1.55, 2.07), (1.70, 2.04), (1.90, 2.06), (2.10, 2.03),
    (1.30, 1.95), (1.45, 1.97), (1.60, 1.94), (1.80, 1.96), (2.00, 1.93), (2.20, 1.95),
    (1.15, 1.85), (1.30, 1.87), (1.50, 1.84), (1.70, 1.86), (1.90, 1.83), (2.10, 1.85),
    (1.05, 1.75), (1.20, 1.77), (1.40, 1.74), (1.60, 1.76), (1.80, 1.73), (2.00, 1.75),
    (0.95, 1.65), (1.10, 1.67), (1.30, 1.64), (1.50, 1.66), (1.70, 1.63), (1.90, 1.65), (2.15, 1.67),
    (0.88, 1.55), (1.00, 1.57), (1.20, 1.54), (1.40, 1.56), (1.60, 1.53), (1.80, 1.55), (2.05, 1.57), (2.30, 1.54),
    (0.80, 1.45), (0.95, 1.47), (1.10, 1.44), (1.30, 1.46), (1.50, 1.43), (1.70, 1.45), (1.90, 1.47),
    (2.20, 1.44), (2.45, 1.46),
    (0.72, 1.36), (0.88, 1.34), (1.05, 1.37), (1.25, 1.35), (1.45, 1.33), (1.65, 1.36), (1.85, 1.34),
    (2.10, 1.37), (2.35, 1.35),
    (1.62, 2.31), (1.78, 2.32), (1.55, 2.20), (1.70, 2.21), (1.85, 2.19), (1.45, 2.10), (1.60, 2.11),
    (1.75, 2.09), (1.95, 2.10), (1.35, 2.00), (1.50, 2.01), (1.65, 1.99), (1.85, 2.00), (2.05, 2.01),
    (1.22, 1.90), (1.38, 1.91), (1.55, 1.89), (1.75, 1.90), (1.95, 1.91), (2.15, 1.89), (1.10, 1.80),
    (1.25, 1.81), (1.45, 1.79), (1.65, 1.80), (1.85, 1.81), (2.05, 1.79), (1.00, 1.70), (1.15, 1.71),
    (1.35, 1.69), (1.55, 1.70), (1.75, 1.71), (1.95, 1.69), (2.20, 1.70), (0.92, 1.60), (1.05, 1.61),
    (1.25, 1.59), (1.45, 1.60), (1.65, 1.61), (1.85, 1.59), (2.10, 1.60), (2.35, 1.61), (0.84, 1.50),
    (1.00, 1.51), (1.18, 1.49), (1.38, 1.50), (1.58, 1.51), (1.78, 1.49), (2.00, 1.50), (2.30, 1.51),
    (0.76, 1.40), (0.92, 1.41), (1.10, 1.39), (1.30, 1.40), (1.50, 1.41), (1.72, 1.39), (1.95, 1.40),
    (2.20, 1.41),
    (-4.22, 1.21), (-4.06, 0.60), (-4.03, 0.53), (-3.80, 0.56), (-3.67, 0.46), (-3.51, 0.96), (-3.40, 0.81),
    (-3.27, 0.50), (-2.82, 0.51), (-2.92, 1.10), (-2.74, 0.97), (-2.95, 1.28), (-2.56, 0.85), (-2.48, 0.73),
    (-2.39, 1.18), (-2.00, 0.51), (4.29, 1.14), (3.55, 0.97), (4.11, 0.68), (3.83, 0.57), (3.16, 1.09),
    (3.30, 0.88), (3.32, 0.77), (2.85, 0.92), (2.34, 0.48), (2.70, 1.20), (2.60, 0.60),
    (-2.00, 1.25), (-1.75, 1.23), (-1.50, 1.26), (-1.25, 1.24), (-1.00, 1.27), (-0.75, 1.25),
    (-2.10, 1.17), (-1.85, 1.18), (-1.60, 1.16), (-1.35, 1.19), (-1.10, 1.17), (-0.88, 1.15), (-0.65, 1.18),
    (-2.15, 1.09), (-1.90, 1.10), (-1.65, 1.08), (-1.40, 1.11), (-1.15, 1.09), (-0.92, 1.07), (-0.70, 1.10),
    (-2.20, 1.00), (-1.95, 1.01), (-1.70, 0.99), (-1.45, 1.02), (-1.20, 1.00), (-0.98, 0.98), (-0.75, 1.01), (-0.55, 0.99),
    (-2.10, 0.92), (-1.85, 0.93), (-1.60, 0.91), (-1.35, 0.94), (-1.10, 0.92), (-0.88, 0.90), (-0.65, 0.93), (-0.50, 0.91),
    (-2.20, 0.84), (-1.95, 0.85), (-1.70, 0.83), (-1.45, 0.86), (-1.20, 0.84), (-0.95, 0.82), (-0.72, 0.85), (-0.48, 0.83),
    (-2.10, 0.76), (-1.85, 0.77), (-1.60, 0.75), (-1.35, 0.78), (-1.10, 0.76), (-0.88, 0.74), (-0.65, 0.77), (-0.44, 0.75),
    (-2.00, 0.68), (-1.75, 0.69), (-1.50, 0.67), (-1.25, 0.70), (-1.00, 0.68), (-0.78, 0.66), (-0.58, 0.69), (-0.40, 0.67),
    (-1.95, 0.60), (-1.70, 0.61), (-1.45, 0.59), (-1.20, 0.62), (-0.95, 0.60), (-0.72, 0.58), (-0.52, 0.61), (-0.35, 0.59),
    (-1.80, 0.52), (-1.55, 0.53), (-1.30, 0.51), (-1.05, 0.54), (-0.82, 0.52), (-0.62, 0.50), (-0.45, 0.53), (-0.30, 0.51),
    (-1.70, 0.44), (-1.45, 0.45), (-1.20, 0.43), (-0.95, 0.46), (-0.75, 0.44), (-0.55, 0.42), (-0.38, 0.45), (-0.26, 0.43),
    (-1.50, 0.36), (-1.25, 0.37), (-1.00, 0.35), (-0.80, 0.38), (-0.60, 0.36), (-0.42, 0.34), (-0.22, 0.35),
    (-1.30, 0.28), (-1.05, 0.29), (-0.82, 0.27), (-0.62, 0.30), (-0.45, 0.28), (-0.30, 0.26), (-0.18, 0.29),
    (-1.00, 0.20), (-0.78, 0.21), (-0.58, 0.19), (-0.40, 0.22), (-0.26, 0.20), (-0.14, 0.18),
    (-0.60, 0.12), (-0.42, 0.13), (-0.26, 0.11), (-0.12, 0.12), (-0.30, 0.05), (-0.16, 0.06), (-0.06, 0.04),
    (0.65, 1.25), (0.85, 1.23), (1.05, 1.26), (1.30, 1.24), (1.55, 1.27), (1.80, 1.25), (2.05, 1.23),
    (0.62, 1.17), (0.80, 1.18), (1.00, 1.16), (1.22, 1.19), (1.45, 1.17), (1.70, 1.15), (1.95, 1.18), (2.20, 1.16),
    (0.58, 1.09), (0.75, 1.10), (0.95, 1.08), (1.15, 1.11), (1.40, 1.09), (1.65, 1.07), (1.90, 1.10), (2.15, 1.08),
    (0.52, 1.00), (0.70, 1.01), (0.90, 0.99), (1.10, 1.02), (1.35, 1.00), (1.60, 0.98), (1.85, 1.01), (2.10, 0.99), (2.35, 1.02),
    (0.48, 0.92), (0.65, 0.93), (0.85, 0.91), (1.05, 0.94), (1.30, 0.92), (1.55, 0.90), (1.80, 0.93), (2.05, 0.91),
    (0.45, 0.84), (0.62, 0.85), (0.80, 0.83), (1.00, 0.86), (1.25, 0.84), (1.50, 0.82), (1.75, 0.85), (2.00, 0.83), (2.25, 0.86),
    (0.42, 0.76), (0.58, 0.77), (0.76, 0.75), (0.95, 0.78), (1.18, 0.76), (1.42, 0.74), (1.68, 0.77), (1.92, 0.75),
    (0.38, 0.68), (0.54, 0.69), (0.72, 0.67), (0.90, 0.70), (1.12, 0.68), (1.35, 0.66), (1.60, 0.69), (1.85, 0.67),
    (0.34, 0.60), (0.50, 0.61), (0.68, 0.59), (0.86, 0.62), (1.06, 0.60), (1.28, 0.58), (1.50, 0.61), (1.75, 0.59),
    (0.30, 0.52), (0.46, 0.53), (0.62, 0.51), (0.80, 0.54), (1.00, 0.52), (1.20, 0.50), (1.42, 0.53), (1.65, 0.51),
    (0.26, 0.44), (0.40, 0.45), (0.56, 0.43), (0.74, 0.46), (0.92, 0.44), (1.12, 0.42), (1.35, 0.45),
    (0.22, 0.36), (0.36, 0.37), (0.50, 0.35), (0.66, 0.38), (0.84, 0.36), (1.02, 0.34), (1.25, 0.37),
    (0.18, 0.28), (0.30, 0.29), (0.44, 0.27), (0.60, 0.30), (0.76, 0.28), (0.94, 0.26),
    (0.14, 0.20), (0.25, 0.21), (0.38, 0.19), (0.52, 0.22), (0.68, 0.20),
    (0.09, 0.12), (0.18, 0.13), (0.30, 0.11), (0.42, 0.14), (0.04, 0.05), (0.12, 0.06), (0.20, 0.04),
]
d_core = [
    (-1.88, 1.21), (-1.62, 1.21), (-1.38, 1.22), (-1.12, 1.21), (-0.88, 1.20), (-0.70, 1.21), (-1.98, 1.13),
    (-1.72, 1.13), (-1.48, 1.14), (-1.22, 1.13), (-0.98, 1.12), (-0.76, 1.13), (-0.60, 1.14), (-2.02, 1.05),
    (-1.78, 1.05), (-1.52, 1.06), (-1.28, 1.05), (-1.05, 1.04), (-0.82, 1.05), (-0.62, 1.06), (-2.05, 0.96),
    (-1.82, 0.96), (-1.58, 0.97), (-1.32, 0.96), (-1.08, 0.95), (-0.86, 0.96), (-0.62, 0.97), (-2.10, 0.88),
    (-1.85, 0.88), (-1.60, 0.89), (-1.32, 0.88), (-1.08, 0.87), (-0.85, 0.88), (-0.60, 0.89), (-2.00, 0.80),
    (-1.75, 0.80), (-1.50, 0.81), (-1.25, 0.80), (-1.00, 0.79), (-0.78, 0.80), (-0.56, 0.81), (-1.90, 0.72),
    (-1.65, 0.72), (-1.40, 0.73), (-1.15, 0.72), (-0.90, 0.71), (-0.70, 0.72), (-0.50, 0.73), (-1.85, 0.64),
    (-1.60, 0.64), (-1.35, 0.65), (-1.10, 0.64), (-0.86, 0.63), (-0.65, 0.64), (-0.45, 0.65), (-1.70, 0.56),
    (-1.45, 0.56), (-1.20, 0.57), (-0.95, 0.56), (-0.72, 0.55), (-0.55, 0.56), (-0.40, 0.57), (-1.60, 0.48),
    (-1.35, 0.48), (-1.10, 0.49), (-0.88, 0.48), (-0.66, 0.47), (-0.48, 0.48), (-0.34, 0.49), (-1.40, 0.40),
    (-1.12, 0.40), (-0.90, 0.41), (-0.70, 0.40), (-0.50, 0.39), (-0.32, 0.40), (-1.18, 0.32), (-0.92, 0.32),
    (-0.72, 0.33), (-0.52, 0.32), (-0.36, 0.31), (-0.24, 0.32), (-0.88, 0.24), (-0.66, 0.24), (-0.48, 0.25),
    (-0.32, 0.24), (-0.20, 0.23), (-0.50, 0.16), (-0.34, 0.16), (-0.18, 0.15), (-0.22, 0.08), (-0.10, 0.08),
    (0.75, 1.21), (0.95, 1.21), (1.18, 1.22), (1.42, 1.21), (1.68, 1.20), (1.92, 1.21), (0.70, 1.13),
    (0.90, 1.13), (1.10, 1.14), (1.32, 1.13), (1.58, 1.12), (1.82, 1.13), (2.08, 1.14), (0.65, 1.05),
    (0.85, 1.05), (1.05, 1.06), (1.28, 1.05), (1.52, 1.04), (1.78, 1.05), (2.02, 1.06), (0.60, 0.96),
    (0.80, 0.96), (1.00, 0.97), (1.22, 0.96), (1.45, 0.95), (1.70, 0.96), (1.95, 0.97), (2.20, 0.96),
    (0.56, 0.88), (0.75, 0.88), (0.95, 0.89), (1.15, 0.88), (1.38, 0.87), (1.62, 0.88), (1.88, 0.89),
    (2.12, 0.88), (0.52, 0.80), (0.70, 0.80), (0.88, 0.81), (1.08, 0.80), (1.30, 0.79), (1.55, 0.80),
    (1.80, 0.81), (2.08, 0.80), (0.48, 0.72), (0.65, 0.72), (0.82, 0.73), (1.02, 0.72), (1.25, 0.71),
    (1.48, 0.72), (1.72, 0.73), (0.44, 0.64), (0.60, 0.64), (0.78, 0.65), (0.96, 0.64), (1.18, 0.63),
    (1.40, 0.64), (1.62, 0.65), (1.88, 0.64), (0.40, 0.56), (0.56, 0.56), (0.74, 0.57), (0.92, 0.56),
    (1.12, 0.55), (1.32, 0.56), (1.55, 0.57), (0.35, 0.48), (0.52, 0.48), (0.68, 0.49), (0.86, 0.48),
    (1.05, 0.47), (1.25, 0.48), (1.48, 0.49), (0.30, 0.40), (0.46, 0.40), (0.62, 0.41), (0.80, 0.40),
    (0.98, 0.39), (1.18, 0.40), (0.26, 0.32), (0.40, 0.32), (0.55, 0.33), (0.72, 0.32), (0.88, 0.31),
    (1.08, 0.32), (0.20, 0.24), (0.32, 0.24), (0.46, 0.25), (0.60, 0.24), (0.78, 0.23), (0.14, 0.16),
    (0.24, 0.16), (0.36, 0.17), (0.50, 0.16), (0.08, 0.08), (0.18, 0.09),
]
d_up = [
    (-4.06, 2.90), (-2.56, 2.64), (-2.22, 2.57), (-2.14, 2.50), (-1.76, 2.38), (-1.81, 2.11), (-1.51, 2.12),
    (-2.25, 2.06), (-1.18, 1.73), (-1.98, 1.70), (-1.05, 1.55), (-0.90, 1.53), (-1.05, 1.46), (-0.90, 1.47),
    (-1.40, 1.81),
    (1.32, 2.06), (1.27, 1.92), (1.03, 1.77), (0.97, 1.65), (1.05, 1.65), (0.92, 1.48),
    (-1.67, 1.25), (-1.16, 1.17), (-0.92, 1.28), (-0.65, 1.26), (-0.69, 1.12), (-0.79, 0.98), (-0.58, 0.92),
    (-0.90, 0.84), (-1.67, 0.84), (-0.69, 0.79), (-1.03, 0.67), (-0.42, 0.63), (-0.37, 0.50), (-0.26, 0.40),
    (-0.53, 0.32), (-0.32, 0.31), (-0.58, 0.22), (-0.32, 0.15), (-0.05, 0.06),
    (0.58, 1.05), (0.84, 1.13), (0.74, 0.96), (1.37, 0.84), (1.27, 0.77), (0.58, 0.73), (0.69, 0.64),
    (1.21, 0.61), (1.27, 0.55), (0.32, 0.55), (0.32, 0.46), (0.84, 0.43), (0.24, 0.34), (0.21, 0.13),
]
d_down = [
    (-1.42, 2.16), (-2.09, 2.06), (-1.69, 1.98), (-1.29, 1.86), (-1.35, 1.84), (-1.56, 1.78), (-1.27, 1.37),
    (-1.03, 1.36),
    (3.80, 2.82), (2.71, 2.72), (2.18, 2.56), (2.06, 2.51), (2.46, 2.55), (2.13, 2.38), (2.55, 2.31),
    (3.25, 2.43), (3.06, 2.40), (2.83, 2.14), (2.74, 2.13), (1.88, 2.12), (2.27, 2.06), (1.40, 2.12),
    (1.58, 2.00), (1.95, 1.92), (2.88, 1.89), (3.30, 2.02), (2.19, 1.76), (1.42, 1.65), (1.95, 1.59),
    (2.37, 1.55), (1.16, 1.57), (1.27, 1.49), (1.71, 1.45), (2.06, 1.42), (2.25, 1.39), (2.80, 1.46),
    (4.64, 1.52), (1.21, 1.36), (1.42, 1.41), (1.58, 1.49), (0.79, 1.42),
    (4.03, 0.96), (2.53, 0.46), (1.88, 0.50), (2.11, 0.65), (2.00, 0.91), (2.11, 0.91), (1.85, 1.16),
    (2.06, 1.12), (2.16, 1.26), (1.69, 1.04), (1.42, 0.96), (0.95, 0.89), (0.84, 1.05), (0.63, 1.16),
    (0.90, 1.22), (1.16, 1.21), (1.53, 0.85), (1.21, 0.72), (0.79, 0.64), (0.47, 0.59), (0.37, 0.46),
    (1.11, 0.38), (1.00, 0.32), (0.53, 0.22), (0.21, 0.14),
    (-2.09, 1.04), (-1.85, 1.27), (-1.13, 1.25), (-0.90, 1.08), (-1.05, 1.01), (-0.69, 1.00), (-0.58, 0.89),
    (-1.27, 0.69), (-0.53, 0.77), (-0.58, 0.60), (-0.47, 0.53), (-0.26, 0.40), (-1.16, 0.36), (-0.79, 0.22),
    (-0.42, 0.24), (-0.16, 0.11),
]

# significance stars: (text, colour, left edge in fold-change units)
panels = [
    ('A', 'Cytosolic (Veh)', a_other + a_core, a_up, a_down, BLUE, PINK, 74, 56,
     ('∗∗∗∗', PINK, -5.72), ('∗∗∗∗', BLUE, 3.80), 17),
    ('B', 'Nuclear (Veh)', b_other + b_core, b_up, b_down, GREEN, ORANGE, 569, 56,
     ('∗∗∗∗', ORANGE, -5.80), ('∗∗∗∗', GREEN, 3.77), 17),
    ('C', 'Cytosolic (Tg)', c_other + c_core, c_up, c_down, BLUE, PINK, 74, 593,
     ('∗∗∗∗', BLUE, -5.80), ('∗∗∗∗', PINK, 3.72), 12.5),
    ('D', 'Nuclear (Tg)', d_other + d_core, d_up, d_down, GREEN, ORANGE, 569, 593,
     ('∗∗', GREEN, -5.80), ('∗∗∗∗', ORANGE, 3.78), 12.5),
]

W, H = 944, 1141
fig = plt.figure(figsize=(W / 100, H / 100), dpi=100)

for (letter, title, other, up, down, up_col, down_col, px, py,
     left_stars, right_stars, star_size) in panels:
    ax = fig.add_axes([px / W, 1 - (py + 377) / H, 379 / W, 377 / H])
    fc, p = zip(*other)
    ax.scatter(fc, p, s=21, c='black', lw=0, zorder=2, clip_on=False)
    fc, p = zip(*up)
    ax.scatter(fc, p, s=42, c=up_col, lw=0, zorder=3, clip_on=False)
    fc, p = zip(*down)
    ax.scatter(fc, p, s=42, c=down_col, lw=0, zorder=3, clip_on=False)

    # non-significant region, drawn over the points
    shade = Polygon([(-6, 0), (6, 0), (6, 1.3), (0.585, 1.3), (0.585, 3), (-0.585, 3),
                     (-0.585, 1.3), (-6, 1.3)], closed=True, fc='#878787', alpha=0.5, lw=0, zorder=4)
    ax.add_patch(shade)
    ax.axhline(1.3, color='#222222', ls=(0, (1, 1.2)), lw=1.4, zorder=5)
    for v in (-0.585, 0.585):
        ax.axvline(v, color='#222222', ls=(0, (1, 1.2)), lw=1.4, zorder=5)

    ax.set_xlim(-6, 6)
    ax.set_ylim(0, 3)
    ax.set_xticks([-5, 0, 5])
    ax.set_xticks(range(-6, 7), minor=True)
    ax.set_yticks([0, 1, 2, 3])
    ax.tick_params(which='both', length=5, width=1.5, labelsize=15, pad=4)
    for s in ('top', 'right'):
        ax.spines[s].set_visible(False)
    for s in ('left', 'bottom'):
        ax.spines[s].set_linewidth(1.5)
    ax.set_xlabel('Fold Change (log$_2$ DYT/WT)', fontsize=17)
    ax.xaxis.set_label_coords(0.5, -0.105)
    ax.set_ylabel('P value (-log$_{10}$)', fontsize=17)
    ax.yaxis.set_label_coords(-0.095, 0.5)

    ax.text(0, 3 + 21 / 125.7, title, fontsize=20, ha='center', va='baseline')
    for txt, col, x0 in (left_stars, right_stars):
        ax.text(x0, 2.13, txt, color=col, fontsize=star_size, ha='left', va='center',
                family='DejaVu Sans', clip_on=False)
    fig.text((px - 62) / W, 1 - (py - 44) / H, letter, fontsize=25, fontweight='bold',
             ha='left', va='top')

# legend box
lax = fig.add_axes([283 / W, 1 - 1140 / H, 454 / W, 79 / H])
lax.set_xlim(0, 454)
lax.set_ylim(79, 0)
lax.set_xticks([])
lax.set_yticks([])
for s in lax.spines.values():
    s.set_linewidth(1.5)
    s.set_color('#222222')
rows = [('WT Tg Upregulated:', BLUE, GREEN, 24), ('WT Tg Downregulated:', PINK, ORANGE, 60)]
for label, c1, c2, yy in rows:
    lax.text(267, yy, label, fontsize=16.5, ha='right', va='center', color='#222222')
    lax.plot([290], [yy], 'o', ms=6.5, color=c1)
    lax.text(307, yy, 'Cyto', fontsize=16.5, ha='left', va='center', color='#222222')
    lax.plot([374], [yy], 'o', ms=6.5, color=c2)
    lax.text(391, yy, 'Nuc', fontsize=16.5, ha='left', va='center', color='#222222')

fig.savefig('out.png', dpi=100)
